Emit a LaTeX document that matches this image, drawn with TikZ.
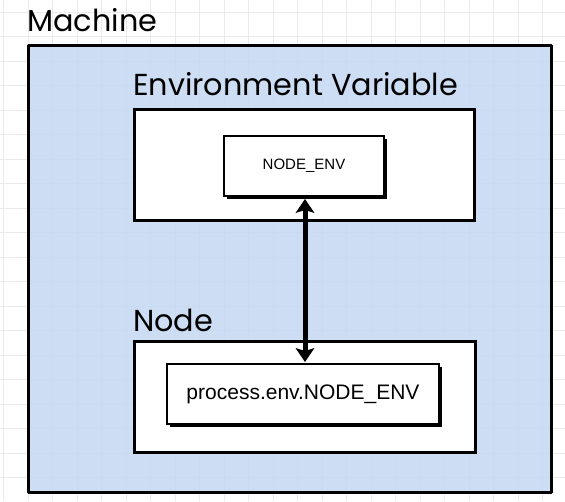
\documentclass[tikz,border=0pt]{standalone}
\usepackage{fontspec}
\setmainfont{Liberation Sans}
\newfontfamily\titlefont{Poppins}
\usetikzlibrary{arrows.meta,shadows}
\definecolor{machineblue}{RGB}{198,217,243}
\definecolor{gridgray}{RGB}{234,234,234}
\tikzset{
  titletxt/.style={font=\titlefont\fontsize{30.3}{31}\selectfont, anchor=base west, inner sep=0pt},
  outerbox/.style={draw=black, line width=3pt, line join=round},
  groupbox/.style={draw=black, line width=2.6pt, fill=white},
  itembox/.style={draw=black, line width=2pt, fill=white, drop shadow={shadow xshift=3pt, shadow yshift=-3pt, fill=black, opacity=1}},
  tipshape/.tip={Stealth[length=14pt,width=19pt,inset=3pt,line width=0pt]},
  link/.style={draw=black, line width=5pt, tipshape-tipshape}
}
\begin{document}
\begin{tikzpicture}[x=1pt,y=-1pt]
\useasboundingbox (0,0) rectangle (565,501);
\fill[white] (0,0) rectangle (565,501);
% grid
\foreach \i in {0,...,23} {
  \draw[gridgray, line width=0.9pt] ({3.5+24.5*\i},0) -- ({3.5+24.5*\i},501);
}
\foreach \j in {0,...,20} {
  \draw[gridgray, line width=0.9pt] (0,{12.3+24.5*\j}) -- (565,{12.3+24.5*\j});
}
% machine
\node[titletxt] (machinelbl) at (27,31) {Machine};
\path[fill=machineblue, fill opacity=0.88] (28,45) rectangle (551,492);
\draw[outerbox] (28,45) rectangle (551,492);
% environment
\node[titletxt] (envlbl) at (133,95) {Environment Variable};
\node[groupbox, minimum width=340pt, minimum height=111pt, anchor=north west, inner sep=0pt] (envbox) at (133,108) {};
\node[itembox, minimum width=160pt, minimum height=60pt, anchor=north west, inner sep=0pt, font=\fontsize{15}{16}\selectfont] (nodeenv) at (223,135) {NODE\_ENV};
% node
\node[titletxt] (nodelbl) at (133,331) {Node};
\node[groupbox, minimum width=341pt, minimum height=111pt, anchor=north west, inner sep=0pt] (nodebox) at (133,340) {};
\node[itembox, minimum width=272pt, minimum height=60pt, anchor=north west, inner sep=0pt, font=\fontsize{21}{23}\selectfont] (procenv) at (166,363) {process.env.NODE\_ENV};
% arrow
\draw[link] ([xshift=1pt,yshift=-2pt]nodeenv.south) -- ([xshift=2pt,yshift=1pt]procenv.north);
\end{tikzpicture}
\end{document}
